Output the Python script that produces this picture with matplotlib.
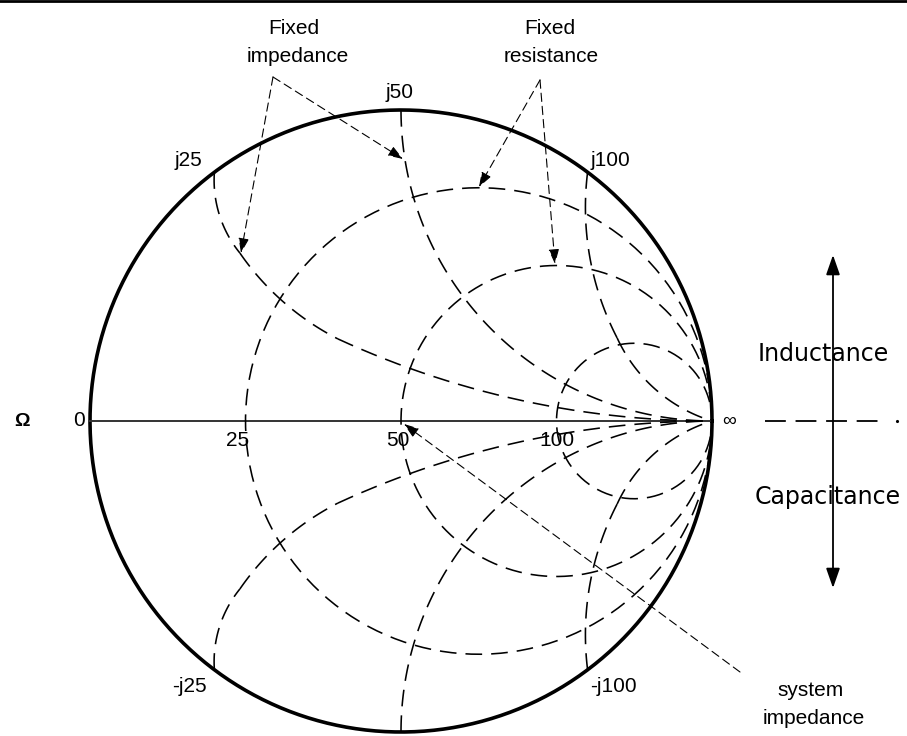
import matplotlib
matplotlib.use("Agg")
import matplotlib.pyplot as plt
import numpy as np

plt.rcParams["font.family"] = ["Liberation Sans", "DejaVu Sans"]
plt.rcParams["lines.scale_dashes"] = False

# ---- data (reflection-coefficient plane, unit circle = |G|=1) ----
z0 = 50
res_labels = ["25", "50", "100"]
res_gamma = [-0.5, 0.0, 0.5]          # where each constant-R circle crosses the real axis
react_values = [25, 50, 100]           # ohm, constant-X arcs
react_top_labels = ["j25", "j50", "j100"]
react_bot_labels = ["-j25", "", "-j100"]
# inner points of each constant-X arc (upper half), from rim towards infinity
arc_inner = [
    [(-0.576, 0.640), (-0.518, 0.540), (-0.396, 0.399), (-0.203, 0.264)],
    [(0.2, 0.4)],
    [(0.614, 0.492), (0.695, 0.267), (0.810, 0.109)],
]

# picture geometry: centre of chart at pixel (401, 421), radius 311 px
W, H = 907, 736
cx, cy, R = 401, 421, 311


def g(x, y):
    # pixel position (from top-left) -> chart coordinates
    return (x - cx) / R, (cy - y) / R


def arc3(p1, p2, p3, n=120):
    # circular arc from p1 to p3 passing through p2
    (x1, y1), (x2, y2), (x3, y3) = p1, p2, p3
    d = 2 * (x1 * (y2 - y3) + x2 * (y3 - y1) + x3 * (y1 - y2))
    s1, s2, s3 = x1**2 + y1**2, x2**2 + y2**2, x3**2 + y3**2
    ux = (s1 * (y2 - y3) + s2 * (y3 - y1) + s3 * (y1 - y2)) / d
    uy = (s1 * (x3 - x2) + s2 * (x1 - x3) + s3 * (x2 - x1)) / d
    r = np.hypot(x1 - ux, y1 - uy)
    a1 = np.arctan2(y1 - uy, x1 - ux)
    a3 = np.arctan2(y3 - uy, x3 - ux)
    if d > 0:
        a3 = a1 + (a3 - a1) % (2 * np.pi)
    else:
        a3 = a1 - (a1 - a3) % (2 * np.pi)
    t = np.linspace(a1, a3, n)
    return ux + r * np.cos(t), uy + r * np.sin(t)


def arc_to_inf(p, n=150):
    # arc from p to (1, 0), tangent to the real axis at (1, 0)
    x, y = p
    c = ((1 - x) ** 2 + y**2) / (2 * y)
    a = np.arctan2(y - c, x - 1)
    t = np.linspace(a, -np.pi / 2, n)
    return 1 + c * np.cos(t), c + c * np.sin(t)


fig = plt.figure(figsize=(W / 100, H / 100), dpi=100)
ax = fig.add_axes([0, 0, 1, 1])
x0, y0 = g(0, H)
x1, y1 = g(W, 0)
ax.set_xlim(x0, x1)
ax.set_ylim(y0, y1)
ax.set_aspect("equal")
ax.axis("off")

dash = dict(color="k", lw=1.15, dashes=(12, 6.5))
thin = (0, (6, 3.5))

# top border line
ax.plot([x0, x1], [g(0, 1)[1]] * 2, color="k", lw=2)

# outer circle
t = np.linspace(0, 2 * np.pi, 400)
ax.plot(np.cos(t), np.sin(t), color="k", lw=2.6)

# real axis
ax.plot([-1, 1], [0, 0], color="#333333", lw=1.4)

# constant resistance circles
for gr in res_gamma:
    c = (gr + 1) / 2
    rr = (1 - gr) / 2
    tt = np.linspace(np.pi / 2, np.pi / 2 + 2 * np.pi, 300)
    ax.plot(c + rr * np.cos(tt), rr * np.sin(tt), **dash)

# constant reactance arcs (upper and mirrored lower)
for xv, inner in zip(react_values, arc_inner):
    xn = xv / z0
    rim = (1j * xn - 1) / (1j * xn + 1)
    pts = [(rim.real, rim.imag)] + inner + [(1.0, 0.0)]
    k = 0
    while k < len(pts) - 1:
        if k + 2 < len(pts):
            px_, py_ = arc3(pts[k], pts[k + 1], pts[k + 2])
        else:
            px_, py_ = arc_to_inf(pts[k])
        ax.plot(px_, py_, **dash)
        ax.plot(px_, -py_, **dash)
        k += 2

# axis labels
ax.text(*g(22, 421), "Ω", fontsize=14, ha="center", va="center", fontweight="bold")
ax.text(*g(79, 421), "0", fontsize=15, ha="center", va="center")
lab_px = [(238, 441), (398, 441), (557, 441)]
for lab, (px, py) in zip(res_labels, lab_px):
    ax.text(*g(px, py), lab, fontsize=15, ha="center", va="center")
ax.text(*g(729, 421), "∞", fontsize=14, ha="center", va="center")

top_px = [(188, 160), (400, 93), (610, 160)]
bot_px = [(189, 686), (400, 750), (613, 686)]
for lab, (px, py) in zip(react_top_labels, top_px):
    ax.text(*g(px, py), lab, fontsize=15, ha="center", va="center")
for lab, (px, py) in zip(react_bot_labels, bot_px):
    if lab:
        ax.text(*g(px, py), lab, fontsize=15, ha="center", va="center")

# callouts
ax.text(*g(294, 28), "Fixed", fontsize=15, ha="center", va="center")
ax.text(*g(298, 57), "impedance", fontsize=15, ha="center", va="center")
ax.text(*g(550, 28), "Fixed", fontsize=15, ha="center", va="center")
ax.text(*g(551, 57), "resistance", fontsize=15, ha="center", va="center")
ax.text(*g(811, 690), "system", fontsize=15, ha="center", va="center")
ax.text(*g(814, 718), "impedance", fontsize=15, ha="center", va="center")

head = "-|>,head_length=0.9,head_width=0.32"
arrows = [((273, 77), (403, 159)), ((273, 77), (241, 253)),
          ((540, 80), (479, 187)), ((540, 80), (555, 264)),
          ((740, 672), (404, 424))]
for (sx, sy), (ex, ey) in arrows:
    ax.annotate("", xy=g(ex, ey), xytext=g(sx, sy),
                arrowprops=dict(arrowstyle=head, lw=0.8, ls=thin, color="k",
                                fc="k", shrinkA=0, shrinkB=0, mutation_scale=10))

# inductance / capacitance indicator
ax.annotate("", xy=g(833, 255), xytext=g(833, 588),
            arrowprops=dict(arrowstyle="<|-|>,head_length=1.0,head_width=0.35",
                            lw=1.3, color="k", shrinkA=0, shrinkB=0, mutation_scale=12))
ax.plot([g(765, 0)[0], g(885, 0)[0]], [0, 0], color="k", lw=1.3, dashes=(15, 7))
ax.plot([g(897, 0)[0]], [0], "k.", ms=2.5)
ax.text(*g(823, 354), "Inductance", fontsize=17, ha="center", va="center",
        family="DejaVu Sans")
ax.text(*g(828, 497), "Capacitance", fontsize=17, ha="center", va="center",
        family="DejaVu Sans")

fig.savefig("out.png", dpi=100)
